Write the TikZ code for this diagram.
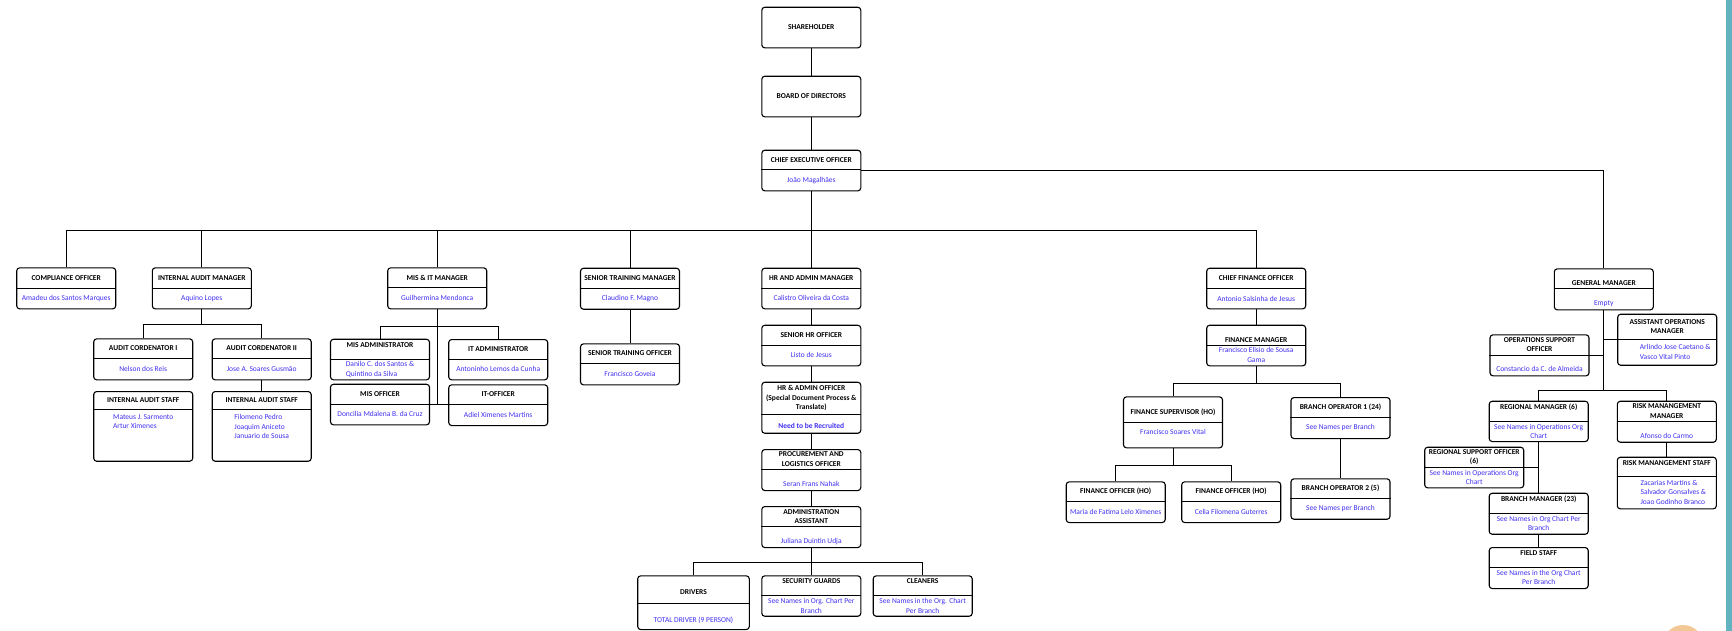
\documentclass[tikz,border=0pt]{standalone}
\usepackage{fontspec}
\setmainfont{Carlito}
\definecolor{namecol}{RGB}{64,48,240}
\definecolor{edgeteal}{RGB}{98,178,192}
\definecolor{sunpeach}{RGB}{242,200,148}
\tikzset{
  unitbox/.style={draw, rounded corners=3pt, line width=1.1pt, minimum width=99, inner sep=0pt, fill=white},
  ttl/.style={inner sep=0pt, align=center, font=\fontsize{7.5}{9.5}\selectfont\bfseries},
  nm/.style={inner sep=0pt, align=center, text=namecol, font=\fontsize{7.5}{9.5}\selectfont},
  divline/.style={line width=1pt},
  link/.style={line width=1pt}
}
% box with a title part and a names part
\newcommand{\orgbox}[8][]{%
  \begin{scope}[#1]
    \node[unitbox, minimum height=#5, anchor=north] (#2) at (#3,#4) {};
    \draw[divline] ([yshift=-#6pt]#2.north west) -- ([yshift=-#6pt]#2.north east);
    \node[ttl] (#2-t) at (#3,#4+#6/2) {#7};
    \node[nm] (#2-n) at (#3,#4+#6/2+#5/2) {#8};
  \end{scope}}

\begin{document}
\begin{tikzpicture}[x=1pt, y=-1pt]
  \useasboundingbox (0,0) rectangle (1732,631);
  \fill[edgeteal] (1726,0) rectangle (1732,631);
  \fill[sunpeach] (1683,645.5) circle[radius=20.5pt];

  % top
  \node[unitbox, ttl, minimum height=40.6, anchor=north] (sh) at (811.3,6.7) {SHAREHOLDER};
  \node[unitbox, ttl, minimum height=40.6, anchor=north] (bod) at (811.3,75.7) {BOARD OF DIRECTORS};
  \orgbox{ceo}{811.3}{149.7}{40.6}{20.3}{CHIEF EXECUTIVE OFFICER}{João Magalhães}

  % compliance and audit
  \orgbox{comp}{66.2}{267.3}{41}{20.7}{COMPLIANCE OFFICER}{Amadeu dos Santos Marques}
  \orgbox{iam}{201.8}{267.3}{41}{20.7}{INTERNAL AUDIT MANAGER}{Aquino Lopes}
  \orgbox{ac1}{143.2}{338.3}{41}{20.4}{AUDIT CORDENATOR I}{Nelson dos Reis}
  \orgbox{ac2}{261.7}{338.3}{41}{20.4}{AUDIT CORDENATOR II}{Jose A. Soares Gusmão}
  \orgbox[nm/.append style={align=left, yshift=13.2pt}]{ias1}{143.2}{391}{69.7}{18.3}{INTERNAL AUDIT STAFF}{Mateus J. Sarmento\\Artur Ximenes}
  \orgbox[nm/.append style={align=left, yshift=8.2pt}]{ias2}{261.7}{391}{69.7}{18.3}{INTERNAL AUDIT STAFF}{Filomeno Pedro\\Joaquim Aniceto\\Januario de Sousa}

  % mis and it
  \orgbox{mis}{437.2}{267.3}{41}{20.5}{MIS \& IT MANAGER}{Guilhermina Mendonca}
  \orgbox[ttl/.append style={yshift=3.7pt}, nm/.append style={align=left}]{misadm}{380}{338.7}{40.6}{20.6}{MIS ADMINISTRATOR}{Danilo C. dos Santos \&\\Quintino da Silva}
  \orgbox{itadm}{498.2}{339}{40.3}{20.3}{IT ADMINISTRATOR}{Antoninho Lemos da Cunha}
  \orgbox{misoff}{380}{383.7}{40.6}{20.3}{MIS OFFICER}{Doncilia Mdalena B. da Cruz}
  \orgbox{itoff}{498.2}{384.3}{40.7}{19.7}{IT-OFFICER}{Adiel Ximenes Martins}

  % training
  \orgbox{stm}{630}{267.7}{41}{20.6}{SENIOR TRAINING MANAGER}{Claudino F. Magno}
  \orgbox{sto}{630}{343.3}{41}{20.4}{SENIOR TRAINING OFFICER}{Francisco Goveia}

  % hr and admin
  \orgbox{hr}{811.3}{267.7}{40.6}{20.6}{HR AND ADMIN MANAGER}{Calistro Oliveira da Costa}
  \orgbox{shr}{811.3}{324.7}{40.6}{20.6}{SENIOR HR OFFICER}{Listo de Jesus}
  \orgbox[nm/.append style={font=\fontsize{7.5}{9.5}\selectfont\bfseries, yshift=-2.5pt}]{hrao}{811.3}{381.7}{51}{32.6}{HR \& ADMIN OFFICER\\(Special Document Process \&\\Translate)}{Need to be Recruited}
  \orgbox[nm/.append style={yshift=-4.6pt}]{proc}{811.3}{449}{41}{20.3}{PROCUREMENT AND\\LOGISTICS OFFICER}{Seran Frans Nahak}
  \orgbox[nm/.append style={yshift=-4.2pt}]{adm}{811.3}{506}{41}{20.7}{ADMINISTRATION\\ASSISTANT}{Juliana Duintin Udja}
  \orgbox[unitbox/.append style={minimum width=111.6}, ttl/.append style={yshift=-3pt}, nm/.append style={yshift=-4pt}]{drv}{693.5}{575.3}{53.7}{28}{DRIVERS}{TOTAL DRIVER (9 PERSON)}
  \orgbox[ttl/.append style={yshift=4pt}]{sec}{811.3}{575.3}{40.4}{20.4}{SECURITY GUARDS}{See Names in Org. Chart Per\\Branch}
  \orgbox[ttl/.append style={yshift=4pt}]{cln}{922.7}{575.3}{40.4}{20.4}{CLEANERS}{See Names in the Org. Chart\\Per Branch}

  % finance
  \orgbox{cfo}{1256.2}{267.7}{40.6}{21}{CHIEF FINANCE OFFICER}{Antonio Salsinha de Jesus}
  \orgbox[ttl/.append style={yshift=-5.5pt}]{fm}{1256.2}{324.7}{40.6}{20.3}{FINANCE MANAGER}{Francisco Elisio de Sousa\\Gama}
  \orgbox[ttl/.append style={yshift=-3.4pt}, nm/.append style={yshift=3pt}]{fs}{1173}{396.3}{51}{26}{FINANCE SUPERVISOR (HO)}{Francisco Soares Vital}
  \orgbox{bo1}{1340.5}{397}{41}{20.3}{BRANCH OPERATOR 1 (24)}{See Names per Branch}
  \orgbox{fo1}{1115.7}{481.3}{40.7}{20.4}{FINANCE OFFICER (HO)}{Maria de Fatima Lelo Ximenes}
  \orgbox{fo2}{1231.2}{481.3}{40.7}{20.4}{FINANCE OFFICER (HO)}{Celia Filomena Guterres}
  \orgbox{bo2}{1340.5}{478.3}{40.4}{20}{BRANCH OPERATOR 2 (5)}{See Names per Branch}

  % operations
  \orgbox[ttl/.append style={yshift=-4.8pt}, nm/.append style={yshift=-4.3pt}]{gm}{1603.8}{268.3}{41}{20.4}{GENERAL MANAGER}{Empty}
  \orgbox[nm/.append style={align=left, xshift=8pt}]{aom}{1667.2}{313.7}{51}{25.3}{ASSISTANT OPERATIONS\\MANAGER}{Arlindo Jose Caetano \&\\Vasco Vital Pinto}
  \orgbox[nm/.append style={yshift=-4pt}]{oso}{1539.5}{334.3}{41}{20.7}{OPERATIONS SUPPORT\\OFFICER}{Constancio da C. de Almeida}
  \orgbox[ttl/.append style={yshift=4pt}]{rm}{1538.7}{400.7}{40.3}{21}{REGIONAL MANAGER (6)}{See Names in Operations Org\\Chart}
  \orgbox[nm/.append style={yshift=-4pt}]{rmm}{1666.8}{400.7}{41}{21}{RISK MANANGEMENT\\MANAGER}{Afonso do Carmo}
  \orgbox{rso}{1474.2}{446.7}{40.6}{20.6}{REGIONAL SUPPORT OFFICER\\(6)}{See Names in Operations Org\\Chart}
  \orgbox[ttl/.append style={yshift=3.7pt}]{bm}{1538.7}{492.7}{41}{20.6}{BRANCH MANAGER (23)}{See Names in Org Chart Per\\Branch}
  \orgbox[ttl/.append style={yshift=4pt}]{fst}{1538.7}{547}{41}{20.3}{FIELD STAFF}{See Names in the Org Chart\\Per Branch}
  \orgbox[ttl/.append style={yshift=3pt}, nm/.append style={align=left, xshift=6.5pt}]{rms}{1666.8}{456.7}{51.6}{19.3}{RISK MANANGEMENT STAFF}{Zacarias Martins \&\\Salvador Gonsalves \&\\Joao Godinho Branco}

  % links
  \draw[link] (sh) -- (bod);
  \draw[link] (bod) -- (ceo);
  \coordinate (ceobus) at (811.3,231);
  \draw[link] (ceo) -- (ceobus);
  \foreach \u in {comp,iam,mis,stm,hr,cfo}
    \draw[link] (ceobus) -| (\u);
  \draw[link] (ceo.east) -| (gm);

  \coordinate (iambus) at (201.8,324.3);
  \draw[link] (iam) -- (iambus);
  \foreach \u in {ac1,ac2}
    \draw[link] (iambus) -| (\u);
  \draw[link] (ac2) -- (ias2);

  \coordinate (misbus) at (437.2,326.7);
  \foreach \u in {misadm,itadm}
    \draw[link] (misbus) -| (\u);
  \draw[link] (mis.south) -- (mis.south |- misoff.east);
  \draw[link] (misoff.east) -- (misoff.east -| itoff.west);

  \draw[link] (stm) -- (sto);

  \draw[link] (hr) -- (shr);
  \draw[link] (shr) -- (hrao);
  \draw[link] (hrao) -- (proc);
  \draw[link] (proc) -- (adm);
  \coordinate (admbus) at (811.3,562.7);
  \draw[link] (adm) -- (admbus);
  \foreach \u in {drv,sec,cln}
    \draw[link] (admbus) -| (\u);

  \draw[link] (cfo) -- (fm);
  \coordinate (fmbus) at (1256.2,383.3);
  \draw[link] (fm) -- (fmbus);
  \foreach \u in {fs,bo1}
    \draw[link] (fmbus) -| (\u);
  \coordinate (fsbus) at (1173,465);
  \draw[link] (fs) -- (fsbus);
  \foreach \u in {fo1,fo2}
    \draw[link] (fsbus) -| (\u);
  \draw[link] (bo1) -- (bo2);

  \coordinate (gmbus) at (1603.8,390.3);
  \draw[link] (gm) -- (gmbus);
  \foreach \u in {rm,rmm}
    \draw[link] (gmbus) -| (\u);
  \draw[link] (oso.east) -- (oso.east -| gm.south);
  \draw[link] (aom.west) -- (aom.west -| gm.south);
  \draw[link] (rm) -- (bm);
  \draw[link] (rso.east) -- (rso.east -| rm.south);
  \draw[link] (bm) -- (fst);
  \draw[link] (rmm) -- (rms);
\end{tikzpicture}
\end{document}
